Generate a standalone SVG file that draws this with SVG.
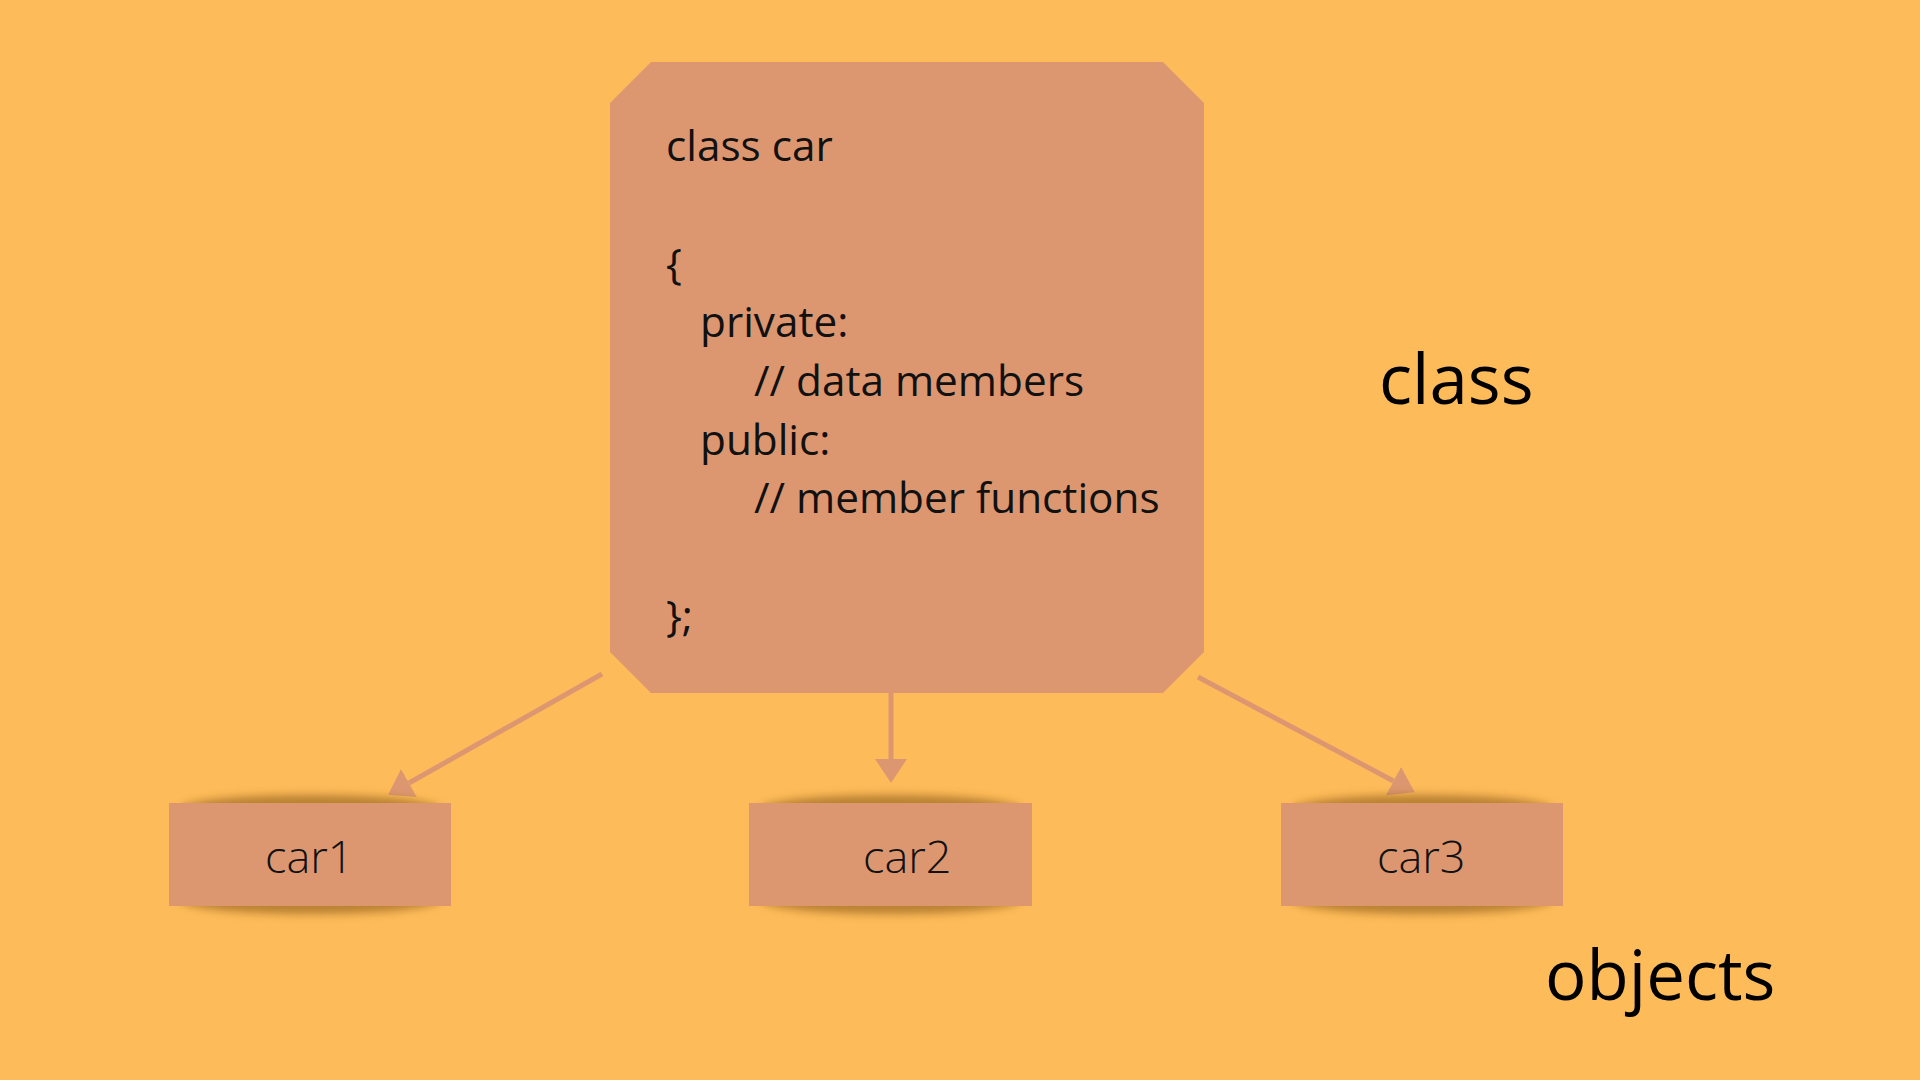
<svg xmlns="http://www.w3.org/2000/svg" width="1920" height="1080" viewBox="0 0 1920 1080">
<defs>
<style>
.bg{fill:#FEBB5A}
.box{fill:#DD9770}
.code{font-family:"Open Sans","Liberation Sans",sans-serif;font-size:42.3px;fill:#111}
.lbl{font-family:"Open Sans","Liberation Sans",sans-serif;font-size:45px;font-weight:300;fill:#111}
.big{font-family:"Open Sans","Liberation Sans",sans-serif;font-size:69px;fill:#000}
.conn{stroke:#DD9770;stroke-width:5;fill:none;marker-end:url(#ah)}
.shadow{fill:#8A5A18;opacity:0.6;filter:url(#blur)}
</style>
<marker id="ah" markerUnits="userSpaceOnUse" markerWidth="26" markerHeight="34" refX="0" refY="16" orient="auto" viewBox="0 0 26 34">
<path d="M0,0 L24,16 L0,32 z" fill="#DD9770"/>
</marker>
<filter id="blur" x="-20%" y="-60%" width="140%" height="220%">
<feGaussianBlur stdDeviation="4.5"/>
</filter>
</defs>
<rect class="bg" x="0" y="0" width="1920" height="1080"/>

<g id="class-node">
<polygon class="box" points="651,62 1163,62 1204,103 1204,652 1163,693 651,693 610,652 610,103"/>
<text class="code" x="666" y="161">class car</text>
<text class="code" x="666" y="279">{</text>
<text class="code" x="700" y="337">private:</text>
<text class="code" x="754" y="396">// data members</text>
<text class="code" x="700" y="455">public:</text>
<text class="code" x="754" y="513">// member functions</text>
<text class="code" x="666" y="631">};</text>
</g>

<g id="connectors">
<line class="conn" x1="602" y1="674" x2="409" y2="783"/>
<line class="conn" x1="891" y1="693" x2="891" y2="759"/>
<line class="conn" x1="1198" y1="677" x2="1393.5" y2="781"/>
</g>

<g id="car1">
<ellipse class="shadow" cx="310" cy="809" rx="130" ry="14"/>
<ellipse class="shadow" cx="310" cy="900" rx="130" ry="14"/>
<rect class="box" x="169" y="803" width="282" height="103"/>
<text class="lbl" x="265" y="873">car1</text>
</g>
<g id="car2">
<ellipse class="shadow" cx="890.5" cy="809" rx="130" ry="14"/>
<ellipse class="shadow" cx="890.5" cy="900" rx="130" ry="14"/>
<rect class="box" x="749" y="803" width="283" height="103"/>
<text class="lbl" x="863" y="873">car2</text>
</g>
<g id="car3">
<ellipse class="shadow" cx="1422" cy="809" rx="130" ry="14"/>
<ellipse class="shadow" cx="1422" cy="900" rx="130" ry="14"/>
<rect class="box" x="1281" y="803" width="282" height="103"/>
<text class="lbl" x="1377" y="873">car3</text>
</g>

<g id="label-class">
<text class="big" x="1379" y="404">class</text>
</g>
<g id="label-objects">
<text class="big" x="1545" y="1000">objects</text>
</g>
</svg>
